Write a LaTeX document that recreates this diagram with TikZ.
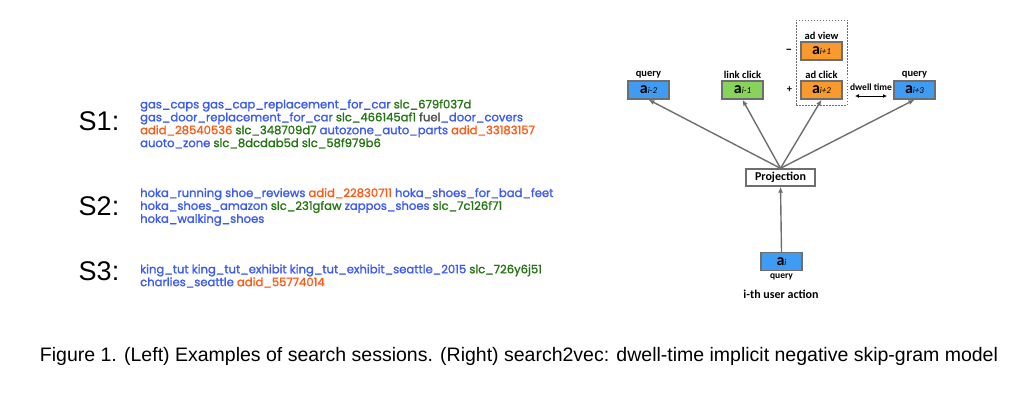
\documentclass[tikz,border=0pt]{standalone}
\usepackage{fontspec}
\setmainfont{Liberation Sans}
\newfontfamily\sessfont{Poppins}[FakeBold=1.5]
\newfontfamily\labfont{Carlito}
\usetikzlibrary{arrows.meta,positioning}
\definecolor{qblue}{HTML}{3F9CF2}
\definecolor{cgreen}{HTML}{88D35C}
\definecolor{aorange}{HTML}{F89A2E}
\definecolor{boxgray}{HTML}{6E6E6E}
\definecolor{tblue}{HTML}{3C5AF5}
\definecolor{tgreen}{HTML}{267514}
\definecolor{torange}{HTML}{FF5A14}
\definecolor{tgray}{HTML}{505050}
\newcommand{\actn}[1]{{\fontsize{16}{16}\selectfont\bfseries a}{\fontsize{9}{9}\selectfont\itshape #1}}
\newcommand{\qw}[1]{\textcolor{tblue}{#1}}
\newcommand{\sw}[1]{\textcolor{tgreen}{#1}}
\newcommand{\aw}[1]{\textcolor{torange}{#1}}

\begin{document}
\begin{tikzpicture}[x=1pt, y=-1pt,
  act/.style={draw=boxgray, line width=1.4pt, minimum width=41pt, minimum height=18pt,
              inner sep=0pt, font=\labfont},
  lab/.style={font=\labfont\bfseries\fontsize{10.5}{11}\selectfont, inner sep=1pt},
  sess/.style={anchor=west, align=left, inner sep=0pt,
               font=\sessfont\fontsize{11.6}{12.9}\selectfont},
  slab/.style={font=\fontsize{27}{27}\selectfont, inner sep=0pt},
  arr/.style={-{Latex[length=6pt,width=5pt]}, line width=1.4pt, boxgray}
]
  \useasboundingbox (0,0) rectangle (1024,404);

  % search sessions
  \node[slab] (s1) at (99,121) {S1:};
  \node[slab] (s2) at (99,206) {S2:};
  \node[slab] (s3) at (99,271) {S3:};
  \node[sess] (s1text) at (140,124) {%
    \qw{gas\_caps gas\_cap\_replacement\_for\_car} \sw{slc\_679f037d}\\
    \qw{gas\_door\_replacement\_for\_car} \sw{slc\_466145af1} \textcolor{tgray}{fuel}\qw{\_door\_covers}\\
    \aw{adid\_28540536} \sw{slc\_348709d7} \qw{autozone\_auto\_parts} \aw{adid\_33183157}\\
    \qw{auoto\_zone} \sw{slc\_8dcdab5d slc\_58f979b6}};
  \node[sess] (s2text) at (140,207) {%
    \qw{hoka\_running shoe\_reviews} \aw{adid\_22830711} \qw{hoka\_shoes\_for\_bad\_feet}\\
    \qw{hoka\_shoes\_amazon} \sw{slc\_231gfaw} \qw{zappos\_shoes} \sw{slc\_7c126f71}\\
    \qw{hoka\_walking\_shoes}};
  \node[sess] (s3text) at (140,276) {%
    \qw{king\_tut king\_tut\_exhibit king\_tut\_exhibit\_seattle\_2015} \sw{slc\_726y6j51}\\
    \qw{charlies\_seattle} \aw{adid\_55774014}};

  % skip-gram model
  \node[act, fill=qblue] (am2) at (648.5,90) {\actn{i-2}};
  \node[act, fill=cgreen] (am1) at (742.5,90) {\actn{i-1}};
  \node[act, fill=aorange] (ap1) at (821.5,51) {\actn{i+1}};
  \node[act, fill=aorange] (ap2) at (821.5,90) {\actn{i+2}};
  \node[act, fill=qblue] (ap3) at (914.5,90) {\actn{i+3}};
  \node[lab, above=1pt of am2] (l-am2) {query};
  \node[lab, above=1pt of am1] (l-am1) {link click};
  \node[lab, above=1pt of ap1] (l-ap1) {ad view};
  \node[lab, above=1pt of ap2] (l-ap2) {ad click};
  \node[lab, above=1pt of ap3] (l-ap3) {query};
  \node[draw=boxgray, dash pattern=on 1.5pt off 1.5pt, line width=0.6pt,
        minimum width=51pt, minimum height=85pt] (adgrp) at (821.5,62.5) {};
  \node[lab, left=7pt of ap1, font=\labfont\bfseries\fontsize{13}{13}\selectfont] (neg) {\textendash};
  \node[lab, left=7pt of ap2] (pos) {+};
  \coordinate (dwl) at (855,96);
  \coordinate (dwr) at (887,96);
  \node[lab, font=\labfont\bfseries\fontsize{9.5}{10}\selectfont] (dwell) at (871,87) {dwell time};
  \draw[{Latex[length=4pt,width=4pt]}-{Latex[length=4pt,width=4pt]}, line width=1pt] (dwl) -- (dwr);

  \node[draw=boxgray, line width=1.4pt, minimum width=69pt, minimum height=17pt, inner sep=0pt,
        font=\labfont\bfseries\fontsize{12}{12}\selectfont] (proj) at (780.5,177.5) {Projection};
  \node[act, fill=qblue] (ai) at (781.5,261.5) {\actn{i}};
  \node[lab, below=1pt of ai, font=\labfont\bfseries\fontsize{9.5}{10}\selectfont] (l-ai) {query};
  \node[font=\labfont\bfseries\fontsize{12}{12}\selectfont, inner sep=0pt] (ith) at (781,294) {i-th user action};

  \draw[arr] (proj.north) -- (am2.south);
  \draw[arr] (proj.north) -- (am1.south);
  \draw[arr] (proj.north) -- (ap2.south);
  \draw[arr] (proj.north) -- (ap3.south);
  \draw[arr] (ai.north) -- (proj.south);

  % caption
  \node[font=\fontsize{19.5}{19.5}\selectfont, inner sep=0pt, anchor=base] (cap) at (519,361)
    {Figure 1. (Left) Examples of search sessions. (Right) search2vec: dwell-time implicit negative skip-gram model};
\end{tikzpicture}
\end{document}
